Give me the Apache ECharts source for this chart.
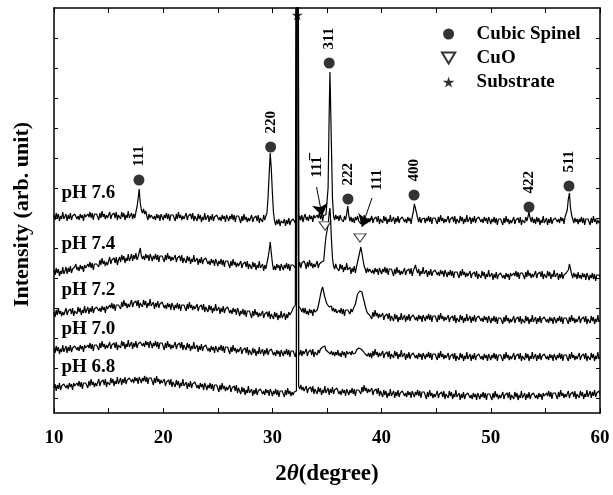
<!DOCTYPE html>
<html>
<head>
<meta charset="utf-8">
<script src="https://cdn.jsdelivr.net/npm/echarts@6/dist/echarts.min.js"></script>
<style>
html,body{margin:0;padding:0;background:#fff;}
#chart{width:613px;height:495px;}
</style>
</head>
<body>
<div id="chart"></div>
<script>
// ---- data: 2theta grid 10.0 .. 60.0, step 0.1 (one row = one degree); stacked intensity, arb. unit ----
const twoThetaStart = 10;
const twoThetaStep = 0.1;
const xTicks = [10, 20, 30, 40, 50, 60];

const ph76 = [
198,193,200,195,199,192,197,194,201,194,
195,199,192,198,194,200,193,197,195,199,
200,194,197,193,199,195,198,192,199,196,
194,199,196,201,195,200,193,199,197,199,
198,193,200,195,202,196,199,194,198,195,
195,201,194,198,196,200,195,201,193,198,
199,194,201,196,200,193,198,195,202,195,
196,200,194,199,195,201,206,214,224,210,
203,200,204,199,202,197,193,199,195,198,
200,194,197,193,199,195,198,192,199,196,
193,198,195,200,194,199,192,198,196,198,
197,192,199,194,201,195,198,193,197,194,
194,200,193,197,195,199,194,200,192,197,
197,192,199,194,198,191,196,193,200,193,
194,198,191,197,193,199,192,196,194,198,
199,193,196,192,198,194,197,191,198,195,
192,197,194,199,193,198,191,197,195,197,
195,190,197,192,199,193,196,191,195,192,
192,198,191,195,193,197,192,198,190,195,
196,191,198,193,197,200,215,238,260,244,
220,200,192,188,193,189,194,187,192,190,
190,194,187,193,189,195,188,192,190,194,
195,190,193,1500,192,197,193,198,191,196,
199,193,196,192,198,194,197,191,198,195,
193,198,195,200,194,199,192,198,196,198,
199,225,300,325,270,215,197,193,198,194,
197,192,198,194,196,191,197,193,199,207,
197,192,196,191,195,190,196,193,197,192,
194,189,196,191,198,192,195,190,194,191,
191,197,190,194,192,196,191,197,189,194,
195,190,197,192,196,189,194,191,198,191,
192,196,189,195,191,197,190,194,192,196,
197,191,194,190,196,192,195,189,196,201,
209,208,200,195,191,196,190,194,192,195,
190,195,192,197,191,196,189,195,193,195,
194,189,196,191,198,192,195,190,194,191,
191,197,190,194,192,196,191,197,189,194,
195,190,197,192,196,189,194,191,198,191,
192,196,189,195,191,197,190,194,192,196,
197,191,194,190,196,192,195,189,196,193,
189,194,191,196,190,195,188,194,192,194,
193,188,195,190,197,191,194,189,193,190,
190,196,189,193,191,195,190,196,188,193,
195,190,196,192,196,201,195,191,196,190,
194,189,196,191,195,188,193,190,197,190,
191,195,188,194,190,196,189,193,191,195,
197,191,194,190,196,192,195,189,196,197,
203,214,220,205,198,194,190,195,191,194,
189,194,191,196,190,195,188,194,192,194,
193,188,195,190,197,191,194,189,193,190,
192
];
const ph76Peaks = [[35.27, 341], [43.05, 211]];

const ph74 = [
143,138,145,140,144,137,142,139,146,139,
142,146,139,145,141,147,140,144,142,146,
149,143,146,142,148,144,147,141,148,145,
144,149,146,151,145,150,143,149,147,149,
151,146,153,148,155,149,152,147,151,148,
150,156,149,153,151,155,150,156,148,153,
156,151,158,153,157,150,155,152,159,152,
155,159,152,158,154,160,153,156,158,165,
157,154,157,153,159,155,158,152,159,156,
152,157,154,159,153,158,151,157,155,157,
156,151,158,153,160,154,157,152,156,153,
152,158,151,155,153,157,152,158,150,155,
155,150,157,152,156,149,154,151,158,151,
151,155,148,154,150,156,149,153,151,155,
155,149,152,148,154,150,153,147,154,151,
147,152,149,154,148,153,146,152,150,152,
150,145,152,147,154,148,151,146,150,147,
146,152,145,149,147,151,146,152,144,149,
149,144,151,146,150,143,148,145,152,145,
145,149,142,148,144,150,155,162,171,160,
150,143,147,143,149,145,148,142,149,146,
143,148,145,150,144,149,142,148,146,148,
150,145,149,1500,146,151,145,150,148,152,
149,144,151,146,153,147,150,145,149,146,
146,152,145,149,147,151,149,152,165,176,
178,188,200,200,175,155,147,144,149,145,
147,142,149,144,148,141,146,143,150,143,
142,146,139,145,141,147,140,146,151,156,
161,166,160,153,147,144,140,145,141,144,
146,140,143,139,145,141,144,138,145,142,
139,144,141,146,140,145,138,144,142,144,
142,137,144,139,146,140,143,138,142,139,
139,145,138,142,140,144,139,145,137,142,
145,148,143,140,144,137,142,139,146,139,
139,143,136,142,138,144,137,141,139,143,
144,138,141,137,143,139,142,136,143,140,
136,141,138,143,137,142,135,141,139,141,
140,135,142,137,144,138,141,136,140,137,
136,142,135,139,137,141,136,142,134,139,
140,135,142,137,141,134,139,136,143,136,
136,140,133,139,135,141,134,138,136,140,
141,135,138,134,140,136,139,133,140,137,
135,140,137,142,136,141,134,140,138,140,
139,134,141,136,143,137,140,135,139,136,
136,142,135,139,137,141,136,142,134,139,
140,135,142,137,141,134,139,136,143,136,
136,140,133,139,135,141,134,138,136,140,
140,143,149,144,139,135,140,136,139,134,
141,135,138,134,140,136,139,133,140,137,
133,138,135,140,134,139,132,138,136,138,
136
];
const ph74Peaks = [[35.27, 205]];

const ph72 = [
101,96,103,98,105,99,102,97,101,98,
99,105,98,102,100,104,99,105,97,102,
104,99,106,101,105,98,103,100,107,100,
102,106,99,105,101,107,100,104,102,106,
108,102,105,101,107,103,106,100,107,104,
103,108,105,110,104,109,102,108,106,108,
109,104,111,106,113,107,110,105,109,106,
107,113,106,110,108,112,107,113,105,110,
111,106,113,108,112,105,110,107,114,107,
107,111,104,110,106,112,105,109,107,111,
111,105,108,104,110,106,109,103,110,107,
103,108,105,110,104,109,102,108,106,108,
107,102,109,104,111,105,108,103,107,104,
103,109,102,106,104,108,103,109,101,106,
106,101,108,103,107,100,105,102,109,102,
102,106,99,105,101,107,100,104,102,106,
106,100,103,99,105,101,104,98,105,102,
97,102,99,104,98,103,96,102,100,102,
100,95,102,97,104,98,101,96,100,97,
96,102,95,99,97,101,96,102,94,99,
99,94,101,96,100,93,98,95,102,95,
96,100,93,99,95,101,98,99,102,105,
107,108,109,1500,107,106,104,101,105,100,
105,99,102,98,104,100,103,97,104,101,
102,103,107,112,118,123,126,121,116,112,
109,107,106,104,107,102,105,101,104,100,
98,103,100,105,99,104,97,103,101,103,
102,99,104,101,104,106,109,114,119,121,
122,120,121,116,112,107,103,100,102,98,
99,94,101,96,103,97,100,95,99,96,
94,100,93,97,95,99,94,100,92,97,
97,92,99,94,98,91,96,93,100,93,
94,98,91,97,93,99,92,96,94,98,
99,93,96,92,98,94,97,91,98,95,
92,97,94,99,93,98,91,97,95,97,
96,91,98,93,100,94,97,92,96,93,
92,98,91,95,93,97,92,98,90,95,
96,91,98,93,97,90,95,92,99,92,
93,97,90,96,92,98,91,95,93,97,
98,92,95,91,97,93,96,90,97,94,
90,95,92,97,91,96,89,95,93,95,
94,89,96,91,98,92,95,90,94,91,
91,97,90,94,92,96,91,97,89,94,
95,90,97,92,96,89,94,91,98,91,
92,96,89,95,91,97,90,94,92,96,
97,91,94,90,96,92,95,89,96,93,
90,95,92,97,91,96,89,95,93,95,
94,89,96,91,98,92,95,90,94,91,
91,97,90,94,92,96,91,97,89,94,
95,90,97,92,96,89,94,91,98,91,
93
];
const ph72Peaks = [];

const ph70 = [
65,60,67,62,66,59,64,61,68,61,
63,67,60,66,62,68,61,65,63,67,
69,63,66,62,68,64,67,61,68,65,
63,68,65,70,64,69,62,68,66,68,
68,63,70,65,72,66,69,64,68,65,
65,71,64,68,66,70,65,71,63,68,
70,65,72,67,71,64,69,66,73,66,
67,71,64,70,66,72,65,69,67,71,
73,67,70,66,72,68,71,65,72,69,
65,70,67,72,66,71,64,70,68,70,
68,63,70,65,72,66,69,64,68,65,
65,71,64,68,66,70,65,71,63,68,
68,63,70,65,69,62,67,64,71,64,
64,68,61,67,63,69,62,66,64,68,
68,62,65,61,67,63,66,60,67,64,
61,66,63,68,62,67,60,66,64,66,
64,59,66,61,68,62,65,60,64,61,
60,66,59,63,61,65,60,66,58,63,
63,58,65,60,64,57,62,59,66,59,
60,64,57,63,59,65,58,62,60,64,
64,58,61,57,63,59,62,56,63,60,
57,62,59,64,58,63,56,62,60,62,
61,56,63,1500,61,58,63,57,62,59,
58,64,57,61,59,63,58,64,56,61,
61,58,63,60,64,62,66,64,67,63,
64,61,63,59,62,58,61,57,61,58,
63,57,60,56,62,58,61,55,62,59,
57,61,58,62,59,61,60,63,62,65,
67,64,66,62,63,59,61,57,60,56,
60,55,62,57,64,58,61,56,60,57,
56,62,55,59,57,61,56,62,54,59,
60,55,62,57,61,54,59,56,63,56,
56,60,53,59,55,61,54,58,56,60,
61,55,58,54,60,56,59,53,60,57,
54,59,56,61,55,60,53,59,57,59,
58,53,60,55,62,56,59,54,58,55,
54,60,53,57,55,59,54,60,52,57,
58,53,60,55,59,52,57,54,61,54,
55,59,52,58,54,60,53,57,55,59,
60,54,57,53,59,55,58,52,59,56,
53,58,55,60,54,59,52,58,56,58,
57,52,59,54,61,55,58,53,57,54,
54,60,53,57,55,59,54,60,52,57,
58,53,60,55,59,52,57,54,61,54,
55,59,52,58,54,60,53,57,55,59,
60,54,57,53,59,55,58,52,59,56,
53,58,55,60,54,59,52,58,56,58,
57,52,59,54,61,55,58,53,57,54,
54,60,53,57,55,59,54,60,52,57,
58,53,60,55,59,52,57,54,61,54,
56
];
const ph70Peaks = [];

const ph68 = [
25,29,22,28,24,30,23,27,25,29,
31,25,28,24,30,26,29,23,30,27,
25,30,27,32,26,31,24,30,28,30,
30,25,32,27,34,28,31,26,30,27,
28,34,27,31,29,33,28,34,26,31,
33,28,35,30,34,27,32,29,36,29,
31,35,28,34,30,36,29,33,31,35,
37,31,34,30,36,32,35,29,36,33,
30,35,32,37,31,36,29,35,33,35,
33,28,35,30,37,31,34,29,33,30,
28,34,27,31,29,33,28,34,26,31,
31,26,33,28,32,25,30,27,34,27,
27,31,24,30,26,32,25,29,27,31,
31,25,28,24,30,26,29,23,30,27,
23,28,25,30,24,29,22,28,26,28,
26,21,28,23,30,24,27,22,26,23,
22,28,21,25,23,27,22,28,20,25,
24,19,26,21,25,18,23,20,27,20,
20,24,17,23,19,25,18,22,20,24,
25,19,22,18,24,20,23,17,24,21,
17,22,19,24,18,23,16,22,20,22,
21,16,23,18,25,19,22,17,21,18,
21,23,22,1500,27,24,28,23,26,22,
21,27,20,24,22,26,21,27,19,24,
24,19,26,21,25,18,23,20,27,20,
21,25,18,24,20,26,19,23,21,25,
25,19,22,18,24,20,23,17,24,21,
18,23,20,25,19,24,17,23,21,23,
24,19,26,21,28,22,25,20,24,21,
19,25,18,22,20,24,19,25,17,22,
21,16,23,18,22,15,20,17,24,17,
18,22,15,21,17,23,16,20,18,22,
23,17,20,16,22,18,21,15,22,19,
16,21,18,23,17,22,15,21,19,21,
19,14,21,16,23,17,20,15,19,16,
16,22,15,19,17,21,16,22,14,19,
20,15,22,17,21,14,19,16,23,16,
16,20,13,19,15,21,14,18,16,20,
21,15,18,14,20,16,19,13,20,17,
14,19,16,21,15,20,13,19,17,19,
18,13,20,15,22,16,19,14,18,15,
15,21,14,18,16,20,15,21,13,18,
19,14,21,16,20,13,18,15,22,15,
16,20,13,19,15,21,14,18,16,20,
21,15,18,14,20,16,19,13,20,17,
15,20,17,22,16,21,14,20,18,20,
19,14,21,16,23,17,20,15,19,16,
16,22,15,19,17,21,16,22,14,19,
20,15,22,17,21,14,19,16,23,16,
18,22,15,21,17,23,16,20,18,22,
19
];
const ph68Peaks = [];

const sampleNames = ['pH 7.6', 'pH 7.4', 'pH 7.2', 'pH 7.0', 'pH 6.8'];
const sampleLabelX = [10.64, 10.64, 10.64, 10.64, 10.64];
const sampleLabelY = [219.5, 168.5, 123, 83.5, 45.5];

// Cubic spinel reflections (markers above the pH 7.6 peaks)
const spinelHkl = ['111', '220', '311', '222', '400', '422', '511'];
const spinelX = [17.78, 29.84, 35.2, 36.92, 42.97, 53.5, 57.16];
const spinelY = [233, 266, 350, 214, 218, 206, 227];

// CuO reflections
const cuoX = [34.82, 38.02];
const cuoY = [187, 175];
const cuoHkl = ['111\u0305', '111'];
const cuoLabelX = [34.08, 39.58];
const cuoLabelY = [246, 233];
const arrowFrom = [[34.04, 226], [39.12, 215]];
const arrowTo = [[34.56, 197], [38.2, 186]];

// Substrate
const substrateX = [32.28];
const substrateY = [398];

// ---- build ----
function buildSeries(values, peaks) {
  const pts = values.map((v, i) => [+(twoThetaStart + i * twoThetaStep).toFixed(2), v]);
  return pts.concat(peaks).sort((a, b) => a[0] - b[0]);
}
const traces = [
  buildSeries(ph76, ph76Peaks),
  buildSeries(ph74, ph74Peaks),
  buildSeries(ph72, ph72Peaks),
  buildSeries(ph70, ph70Peaks),
  buildSeries(ph68, ph68Peaks)
];

const FONT = "'Liberation Serif', 'Times New Roman', serif";
const STAR = 'path://M50,0 L61,35 L98,35 L68,57 L79,91 L50,70 L21,91 L32,57 L2,35 L39,35 Z';
const DOWN_TRI = 'path://M0,0 L12,0 L6,10 Z';

const chart = echarts.init(document.getElementById('chart'), null, {renderer: 'canvas'});

const lineSeries = traces.map((d, i) => ({
  name: sampleNames[i],
  type: 'line',
  data: d,
  showSymbol: false,
  symbol: 'none',
  lineStyle: {color: '#000', width: 1.2},
  itemStyle: {color: '#000'},
  clip: true,
  silent: true,
  z: 2
}));

const axisLineStyle = {show: true, onZero: false, lineStyle: {color: '#000', width: 1.5}};
const labelText = {fontFamily: FONT, fontWeight: 'bold', color: '#000', opacity: 1, textBorderWidth: 0};

const option = {
  animation: false,
  backgroundColor: '#fff',
  grid: {left: 54, right: 13, top: 8, bottom: 82, containLabel: false},
  legend: {
    data: ['Cubic Spinel', 'CuO', 'Substrate'],
    orient: 'vertical',
    left: 436,
    top: 19,
    itemWidth: 46,
    itemHeight: 11,
    itemGap: 4,
    selectedMode: false,
    textStyle: {fontFamily: FONT, fontWeight: 'bold', fontSize: 19, color: '#000', lineHeight: 20}
  },
  xAxis: [
    {
      type: 'value', position: 'bottom', min: 10, max: 60, interval: 5,
      axisLine: axisLineStyle,
      axisTick: {show: true, inside: true, length: 5, lineStyle: {color: '#000', width: 1}},
      splitLine: {show: false},
      axisLabel: {
        show: true, margin: 16, color: '#000', fontFamily: FONT, fontWeight: 'bold', fontSize: 19,
        formatter: v => (xTicks.indexOf(v) >= 0 ? String(v) : '')
      },
      name: '2{t|\u03b8}(degree)',
      nameLocation: 'middle',
      nameGap: 50,
      nameTextStyle: {
        fontFamily: FONT, fontWeight: 'bold', fontSize: 23, color: '#000',
        rich: {t: {fontFamily: FONT, fontWeight: 'bold', fontStyle: 'italic', fontSize: 23, color: '#000'}}
      }
    },
    {
      type: 'value', position: 'top', min: 10, max: 60, interval: 5,
      axisLine: axisLineStyle,
      axisTick: {show: true, inside: true, length: 5, lineStyle: {color: '#000', width: 1}},
      splitLine: {show: false},
      axisLabel: {show: false}
    }
  ],
  yAxis: [
    {
      type: 'value', position: 'left', min: 0, max: 405, interval: 30,
      axisLine: axisLineStyle,
      axisTick: {show: false, inside: true},
      minorTick: {show: true, splitNumber: 2, length: 4, lineStyle: {color: '#000', width: 1}},
      splitLine: {show: false},
      minorSplitLine: {show: false},
      axisLabel: {show: false},
      name: 'Intensity (arb. unit)',
      nameLocation: 'middle',
      nameRotate: 90,
      nameGap: 21,
      nameTextStyle: {fontFamily: FONT, fontWeight: 'bold', fontSize: 22, color: '#000', padding: [0, 8, 0, 0]}
    },
    {
      type: 'value', position: 'right', min: 0, max: 405, interval: 30,
      axisLine: axisLineStyle,
      axisTick: {show: false, inside: true},
      minorTick: {show: true, splitNumber: 2, length: 4, lineStyle: {color: '#000', width: 1}},
      splitLine: {show: false},
      minorSplitLine: {show: false},
      axisLabel: {show: false}
    }
  ],
  series: lineSeries.concat([
    {
      name: 'Cubic Spinel',
      type: 'scatter',
      symbol: 'circle',
      symbolSize: 11,
      itemStyle: {color: '#000'},
      data: spinelX.map((x, i) => ({value: [x, spinelY[i]], name: spinelHkl[i]})),
      label: Object.assign({
        show: true, position: 'top', distance: 8, rotate: 90,
        align: 'left', verticalAlign: 'middle',
        formatter: p => p.name, fontSize: 15
      }, labelText),
      emphasis: {disabled: true},
      silent: true,
      z: 5
    },
    {
      name: 'CuO',
      type: 'scatter',
      symbol: DOWN_TRI,
      symbolKeepAspect: true,
      symbolSize: [12, 10],
      itemStyle: {color: '#fff', borderColor: '#000', borderWidth: 1},
      data: cuoX.map((x, i) => [x, cuoY[i]]),
      emphasis: {disabled: true},
      silent: true,
      z: 5
    },
    {
      name: 'Substrate',
      type: 'scatter',
      symbol: STAR,
      symbolKeepAspect: true,
      symbolSize: 11,
      itemStyle: {color: '#000'},
      data: substrateX.map((x, i) => [x, substrateY[i]]),
      emphasis: {disabled: true},
      silent: true,
      z: 5
    },
    {
      name: 'cuoLabels',
      type: 'scatter',
      symbolSize: 1,
      itemStyle: {color: 'rgba(255,255,255,0)'},
      data: cuoLabelX.map((x, i) => ({value: [x, cuoLabelY[i]], name: cuoHkl[i]})),
      label: Object.assign({
        show: true, position: 'inside', rotate: 90,
        align: 'center', verticalAlign: 'middle',
        formatter: p => p.name, fontSize: 15
      }, labelText),
      emphasis: {disabled: true},
      silent: true,
      z: 5
    },
    {
      name: 'cuoArrows',
      type: 'lines',
      coordinateSystem: 'cartesian2d',
      symbol: ['none', 'arrow'],
      symbolSize: 12,
      lineStyle: {color: '#000', width: 1, opacity: 1},
      data: arrowFrom.map((f, i) => ({coords: [f, arrowTo[i]]})),
      silent: true,
      z: 6
    },
    {
      name: 'sampleLabels',
      type: 'scatter',
      symbolSize: 1,
      itemStyle: {color: 'rgba(255,255,255,0)'},
      data: sampleLabelX.map((x, i) => ({value: [x, sampleLabelY[i]], name: sampleNames[i]})),
      label: Object.assign({
        show: true, position: 'right', distance: 0,
        align: 'left', verticalAlign: 'middle',
        formatter: p => p.name, fontSize: 19
      }, labelText),
      emphasis: {disabled: true},
      silent: true,
      z: 5
    }
  ])
};

chart.setOption(option);
</script>
</body>
</html>
